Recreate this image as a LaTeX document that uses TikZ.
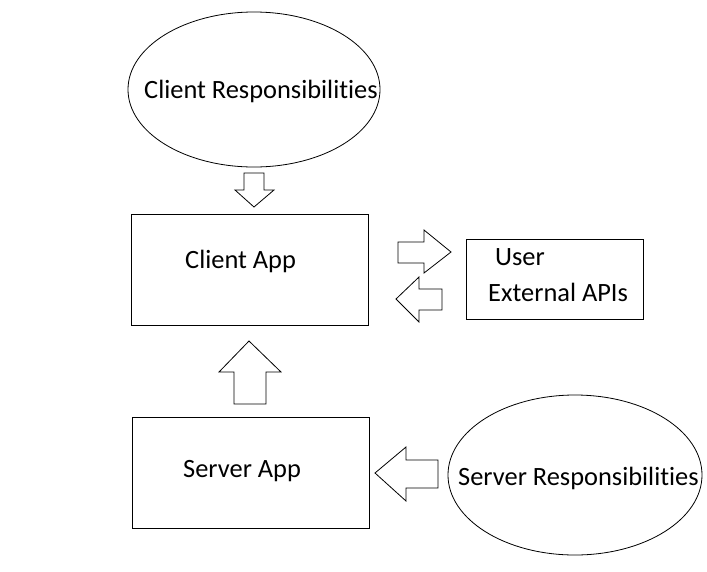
\documentclass[tikz,border=0pt]{standalone}
\usepackage{fontspec}
\setmainfont{Carlito}[RawFeature=-liga]
\usetikzlibrary{shapes.geometric}
\begin{document}
\begin{tikzpicture}[x=1pt,y=-1pt,
  oval/.style={draw,ellipse,line width=0.8pt,inner sep=0pt},
  box/.style={draw,rectangle,line width=1pt,inner sep=0pt},
  blockarrow/.style={draw,line width=0.8pt,line join=miter},
  lbl/.style={anchor=base west,inner sep=0pt,font=\fontsize{26.4}{31}\selectfont}]
  \useasboundingbox[fill=white] (0,0) rectangle (707,571);

  % shapes
  \node[oval,minimum width=252pt,minimum height=155pt] (clientresp) at (254,89.5) {};
  \node[box,minimum width=237pt,minimum height=111pt] (clientapp) at (249.5,269.5) {};
  \node[box,minimum width=177pt,minimum height=80pt] (ext) at (554.5,279) {};
  \node[box,minimum width=237pt,minimum height=111pt] (serverapp) at (250.5,472.5) {};
  \node[oval,minimum width=254pt,minimum height=160pt] (serverresp) at (575,475) {};

  % labels
  \node[lbl] (tcr) at (144,98) {Client Responsibilities};
  \node[lbl] (tca) at (185,268) {Client App};
  \node[lbl] (tu) at (495,265) {User};
  \node[lbl] (tea) at (488,301) {External APIs};
  \node[lbl] (tsa) at (183,477) {Server App};
  \node[lbl] (tsr) at (458,485) {Server Responsibilities};

  % block arrows
  \draw[blockarrow] (244,173) -- (264,173) -- (264,190) -- (274,190) -- (254,207) -- (235,190) -- (244,190) -- cycle;
  \draw[blockarrow] (398,242) -- (424,242) -- (424,230) -- (451,252) -- (424,273) -- (424,263) -- (398,263) -- cycle;
  \draw[blockarrow] (442,289) -- (419,289) -- (419,277) -- (396,299) -- (419,322) -- (419,310) -- (442,310) -- cycle;
  \draw[blockarrow] (234,404) -- (234,372) -- (219,372) -- (249,341) -- (281,372) -- (266,372) -- (266,404) -- cycle;
  \draw[blockarrow] (438,460) -- (406,460) -- (406,447) -- (375,473) -- (406,501) -- (406,488) -- (438,488) -- cycle;
\end{tikzpicture}
\end{document}
